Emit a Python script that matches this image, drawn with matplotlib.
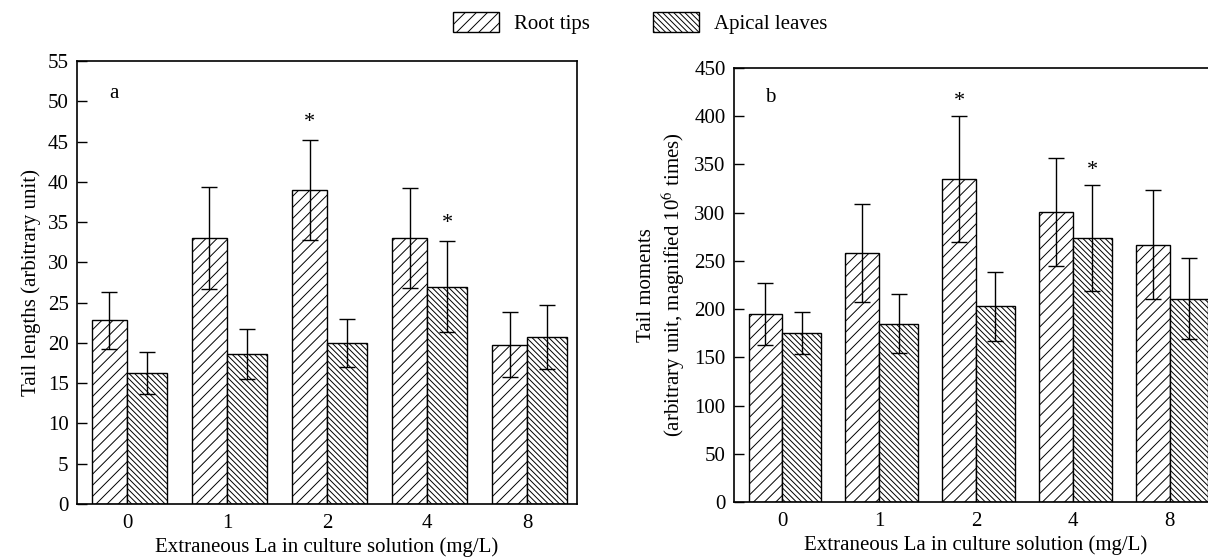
import numpy as np
import matplotlib
matplotlib.use("Agg")
from matplotlib import pyplot as plt
from matplotlib.patches import Patch

plt.rcParams['font.family'] = ['Liberation Serif', 'DejaVu Serif']
plt.rcParams['mathtext.fontset'] = 'stix'
plt.rcParams['hatch.linewidth'] = 0.7
plt.rcParams['font.size'] = 15

# ---- data
doses = ['0', '1', '2', '4', '8']

tail_len_root = [22.8, 33.0, 39.0, 33.0, 19.8]
tail_len_root_err = [3.5, 6.3, 6.2, 6.2, 4.0]
tail_len_apical = [16.3, 18.6, 20.0, 27.0, 20.7]
tail_len_apical_err = [2.6, 3.1, 3.0, 5.6, 4.0]

tail_mom_root = [195, 258, 335, 301, 267]
tail_mom_root_err = [32, 51, 65, 56, 57]
tail_mom_apical = [175, 185, 203, 274, 211]
tail_mom_apical_err = [22, 31, 36, 55, 42]

# significance marks: (series, category index)
stars = [('root', 2), ('apical', 3)]

root_w = 0.35
apical_w = 0.40
hatch_root = '///'
hatch_apical = '\\\\\\\\\\\\'


def draw_panel(ax, root, root_err, apical, apical_err, ymax, ystep, star_off, letter, letter_y):
    x = np.arange(len(doses))
    ek = dict(ecolor='black', elinewidth=1.0, capsize=6, capthick=1.0)
    ax.bar(x - root_w / 2, root, root_w, yerr=root_err, color='white',
           edgecolor='black', linewidth=1.0, hatch=hatch_root, error_kw=ek)
    ax.bar(x + apical_w / 2, apical, apical_w, yerr=apical_err, color='white',
           edgecolor='black', linewidth=1.0, hatch=hatch_apical, error_kw=ek)
    for series, i in stars:
        if series == 'root':
            ax.text(i - root_w / 2, root[i] + root_err[i] + star_off, '*',
                    ha='center', va='center', fontsize=16)
        else:
            ax.text(i + apical_w / 2, apical[i] + apical_err[i] + star_off, '*',
                    ha='center', va='center', fontsize=16)
    ax.set_xlim(-0.5, 4.5)
    ax.set_ylim(0, ymax)
    ax.set_yticks(np.arange(0, ymax + 1, ystep))
    ax.set_xticks(x)
    ax.set_xticklabels(doses)
    ax.tick_params(axis='y', direction='in', length=7, width=1.0, pad=6)
    ax.tick_params(axis='x', length=0, pad=7)
    for s in ax.spines.values():
        s.set_linewidth(1.2)
    ax.set_xlabel('Extraneous La in culture solution (mg/L)', labelpad=3)
    ax.text(-0.13, letter_y, letter, ha='center', va='center', fontsize=15)


fig = plt.figure(figsize=(12.08, 5.57), dpi=100)

ax1 = fig.add_axes([0.0637, 0.0952, 0.414, 0.7953])
draw_panel(ax1, tail_len_root, tail_len_root_err, tail_len_apical, tail_len_apical_err,
           55, 5, 2.2, 'a', 51)
ax1.set_ylabel('Tail lengths (arbitrary unit)', labelpad=5)

ax2 = fig.add_axes([0.6076, 0.0987, 0.4007, 0.7792])
draw_panel(ax2, tail_mom_root, tail_mom_root_err, tail_mom_apical, tail_mom_apical_err,
           450, 50, 15, 'b', 419)
ax2.set_ylabel('Tail moments\n(arbitrary unit, magnified 10$^{6}$ times)', labelpad=5)

handles = [Patch(facecolor='white', edgecolor='black', hatch=hatch_root, label='Root tips'),
           Patch(facecolor='white', edgecolor='black', hatch=hatch_apical, label='Apical leaves')]
fig.legend(handles=handles, loc='upper center', bbox_to_anchor=(0.530, 1.012), ncol=2,
           frameon=False, handlelength=2.2, handleheight=1.1, handletextpad=0.75,
           columnspacing=3.0, fontsize=15)

fig.savefig('out.png', dpi=100)
